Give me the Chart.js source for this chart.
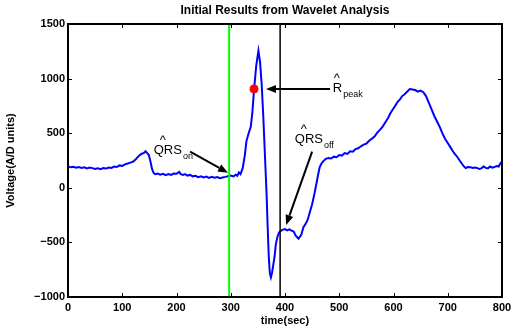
<!DOCTYPE html>
<html lang="en">
<head>
  <meta charset="UTF-8" />
  <title>Initial Results from Wavelet Analysis</title>
  <script src="https://cdn.jsdelivr.net/npm/chart.js"></script>
  <style>
    html, body { margin: 0; padding: 0; background: #fff; }
    #wrap { width: 520px; height: 335px; }
  </style>
</head>
<body>
  <div id="wrap"><canvas id="ecgChart"></canvas></div>

  <script>
    // sample times (sec) and voltages (A/D units)
    const times = [0, 5, 10, 15, 20, 25, 30, 35, 40, 45, 50, 55, 60, 65, 70, 75, 80, 85, 90, 95,
      100, 105, 110, 115, 120, 125, 130, 135, 140, 143, 146, 149, 152, 155, 158, 161, 165, 170, 175, 180,
      185, 190, 195, 200, 205, 208, 212, 216, 220, 225, 230, 235, 240, 245, 250, 255, 260, 265, 270, 275,
      280, 285, 290, 295, 300, 305, 309, 312, 315, 318, 322, 326, 329, 333, 337, 340, 343, 347, 351, 354,
      357, 360, 363, 366, 368, 370, 372, 374, 376, 378, 381, 383, 386, 389, 391, 395, 400, 404, 408, 412,
      416, 420, 425, 430, 434, 438, 442, 446, 450, 454, 458, 461, 464, 467, 470, 475, 480, 485, 490, 495,
      500, 505, 510, 515, 520, 525, 530, 535, 540, 545, 550, 555, 560, 565, 570, 575, 580, 585, 590, 594,
      598, 603, 608, 612, 616, 620, 625, 630, 635, 640, 645, 650, 655, 660, 665, 670, 675, 680, 685, 690,
      695, 700, 705, 710, 713, 718, 722, 726, 729, 733, 737, 742, 746, 750, 755, 758, 762, 766, 770, 774,
      778, 782, 786, 790, 794, 797, 800];
    const voltages = [195, 188, 192, 184, 190, 182, 188, 178, 185, 180, 172, 178, 170, 180, 176, 185, 182, 195, 190, 205,
      200, 215, 222, 230, 240, 262, 290, 310, 320, 335, 318, 300, 240, 170, 135, 125, 130, 120, 128, 115,
      125, 118, 130, 128, 145, 125, 118, 125, 112, 118, 105, 110, 98, 105, 95, 102, 90, 100, 92, 98,
      88, 95, 100, 106, 112, 104, 120, 110, 140, 125, 180, 300, 430, 500, 560, 700, 900, 1120, 1255, 1150,
      950, 650, 300, -50, -350, -620, -780, -820, -780, -720, -620, -520, -450, -410, -400, -385, -378, -390, -380, -392,
      -400, -440, -465, -430, -360, -330, -290, -220, -150, -60, 40, 120, 190, 220, 240, 265, 272, 268, 285, 280,
      300, 295, 318, 310, 335, 330, 355, 362, 380, 395, 405, 430, 450, 470, 505, 530, 560, 600, 640, 680,
      712, 750, 790, 810, 840, 855, 880, 905, 900, 895, 880, 890, 875, 840, 780, 720, 660, 610, 560, 500,
      450, 410, 370, 330, 310, 280, 250, 220, 200, 180, 190, 188, 182, 185, 180, 172, 178, 195, 182, 178,
      195, 185, 190, 200, 195, 225, 240];

    const xTicks = [0, 100, 200, 300, 400, 500, 600, 700, 800];
    const yTicks = [-1000, -500, 0, 500, 1000, 1500];

    const qrsOnTime = 297;
    const qrsOffTime = 391;
    const rPeakTime = 343;
    const rPeakVolt = 905;

    const points = times.map((t, i) => ({ x: t, y: voltages[i] }));

    // text + arrows, in data coordinates
    const notes = [
      { main: 'QRS', sub: 'on', x: 158, y: 310, hat: 9, from: [225, 331], to: [295, 138] },
      { main: 'R', sub: 'peak', x: 488, y: 877, hat: 4, from: [483, 905], to: [365, 905] },
      { main: 'QRS', sub: 'off', x: 418, y: 410, hat: 9, from: [450, 331], to: [402, -341] }
    ];

    const FONT = "'Liberation Sans', Arial, sans-serif";

    const boxPlugin = {
      id: 'box',
      afterDraw(chart) {
        const { ctx, chartArea: { left, right, top, bottom }, scales: { x, y } } = chart;
        ctx.save();
        ctx.strokeStyle = '#000';
        ctx.lineWidth = 1;
        xTicks.forEach(v => {
          const px = Math.round(x.getPixelForValue(v)) + 0.5;
          ctx.beginPath();
          ctx.moveTo(px, bottom); ctx.lineTo(px, bottom - 4);
          ctx.moveTo(px, top); ctx.lineTo(px, top + 4);
          ctx.stroke();
        });
        yTicks.forEach(v => {
          const py = Math.round(y.getPixelForValue(v)) + 0.5;
          ctx.beginPath();
          ctx.moveTo(left, py); ctx.lineTo(left + 4, py);
          ctx.moveTo(right, py); ctx.lineTo(right - 4, py);
          ctx.stroke();
        });
        ctx.lineWidth = 2;
        ctx.strokeRect(left, top, right - left, bottom - top);

        // title, centred over the axes box
        ctx.fillStyle = '#000';
        ctx.font = 'bold 12px ' + FONT;
        ctx.textAlign = 'center';
        ctx.textBaseline = 'middle';
        ctx.fillText('Initial Results from Wavelet Analysis', (left + right) / 2, 11);

        // annotations
        ctx.lineWidth = 2;
        notes.forEach(n => {
          const tx = x.getPixelForValue(n.x);
          const ty = y.getPixelForValue(n.y);
          ctx.font = '13px ' + FONT;
          ctx.textBaseline = 'alphabetic';
          ctx.textAlign = 'left';
          ctx.fillText(n.main, tx, ty);
          const w = ctx.measureText(n.main).width;
          ctx.textAlign = 'center';
          ctx.fillText('^', tx + n.hat, ty - 10);
          ctx.textAlign = 'left';
          ctx.font = '9px ' + FONT;
          ctx.fillText(n.sub, tx + w + 1, ty + 5);

          const x0 = x.getPixelForValue(n.from[0]), y0 = y.getPixelForValue(n.from[1]);
          const x1 = x.getPixelForValue(n.to[0]), y1 = y.getPixelForValue(n.to[1]);
          const ang = Math.atan2(y1 - y0, x1 - x0);
          const head = 10, half = 4;
          const bx = x1 - head * Math.cos(ang), by = y1 - head * Math.sin(ang);
          ctx.beginPath();
          ctx.moveTo(x0, y0); ctx.lineTo(bx, by);
          ctx.stroke();
          ctx.beginPath();
          ctx.moveTo(x1, y1);
          ctx.lineTo(bx + half * Math.sin(ang), by - half * Math.cos(ang));
          ctx.lineTo(bx - half * Math.sin(ang), by + half * Math.cos(ang));
          ctx.closePath();
          ctx.fill();
        });
        ctx.restore();
      }
    };

    const ctx = document.getElementById('ecgChart').getContext('2d');
    new Chart(ctx, {
      type: 'line',
      data: {
        datasets: [
          {
            label: 'R peak',
            data: [{ x: rPeakTime, y: rPeakVolt }],
            showLine: false,
            pointRadius: 4,
            pointBackgroundColor: '#ff0000',
            pointBorderColor: '#ff0000',
            pointBorderWidth: 1
          },
          {
            label: 'QRS on',
            data: [{ x: qrsOnTime, y: yTicks[0] }, { x: qrsOnTime, y: yTicks[yTicks.length - 1] }],
            borderColor: '#00ff00',
            borderWidth: 2,
            pointRadius: 0
          },
          {
            label: 'QRS off',
            data: [{ x: qrsOffTime, y: yTicks[0] }, { x: qrsOffTime, y: yTicks[yTicks.length - 1] }],
            borderColor: '#000000',
            borderWidth: 1.5,
            pointRadius: 0
          },
          {
            label: 'ECG',
            data: points,
            borderColor: '#0000ff',
            borderWidth: 2,
            pointRadius: 0,
            tension: 0
          }
        ]
      },
      options: {
        responsive: true,
        maintainAspectRatio: false,
        animation: false,
        layout: { padding: { top: 24, right: 18, left: 0, bottom: 0 } },
        plugins: {
          legend: { display: false },
          tooltip: { enabled: false },
          title: { display: false }
        },
        scales: {
          x: {
            type: 'linear',
            min: 0,
            max: 800,
            afterBuildTicks: s => { s.ticks = xTicks.map(v => ({ value: v })); },
            afterFit: s => { s.height = 38; },
            grid: { display: false, drawTicks: false },
            border: { display: false },
            ticks: {
              color: '#000',
              padding: 4,
              maxRotation: 0,
              font: { family: FONT, size: 11, weight: 'bold' },
              callback: v => String(v)
            },
            title: {
              display: true,
              text: 'time(sec)',
              color: '#000',
              font: { family: FONT, size: 11, weight: 'bold' },
              padding: { top: 7, bottom: 7 }
            }
          },
          y: {
            type: 'linear',
            min: -1000,
            max: 1500,
            afterBuildTicks: s => { s.ticks = yTicks.map(v => ({ value: v })); },
            afterFit: s => { s.width = 68; },
            grid: { display: false, drawTicks: false },
            border: { display: false },
            ticks: {
              color: '#000',
              padding: 3,
              font: { family: FONT, size: 11, weight: 'bold' },
              callback: v => String(v).replace('-', '\u2212')
            },
            title: {
              display: true,
              text: 'Voltage(A/D units)',
              color: '#000',
              font: { family: FONT, size: 11, weight: 'bold' },
              padding: { top: 4, bottom: 4 }
            }
          }
        }
      },
      plugins: [boxPlugin]
    });
  </script>
</body>
</html>
